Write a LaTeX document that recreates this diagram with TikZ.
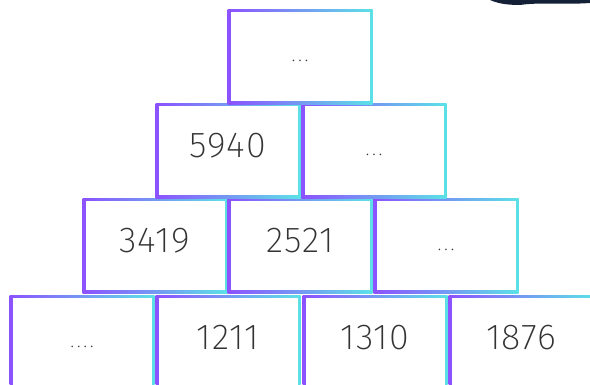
\documentclass[tikz,border=0pt]{standalone}
\usepackage{fontspec}
\setmainfont{Fira Sans ExtraLight}[LetterSpace=3]
\usepackage{xcolor}
\usetikzlibrary{positioning,calc}
\definecolor{edgeleft}{HTML}{8C52FF}
\definecolor{edgeright}{HTML}{5CE1E6}
\definecolor{inkblot}{HTML}{142036}
\tikzset{
  brick/.style ={rectangle,fill=white,minimum width=72.5pt,minimum height=47.5pt,
                 inner sep=0pt,font=\fontsize{18}{20}\selectfont,text=black!80,
                 text height=13pt,text depth=6pt,
                 path picture={
                   \shade[left color=edgeleft,right color=edgeright]
                     (path picture bounding box.south west) rectangle (path picture bounding box.north east);
                   \fill[white]
                     ([shift={(1.5pt,1.5pt)}]path picture bounding box.south west)
                     rectangle ([shift={(-1.5pt,-1.5pt)}]path picture bounding box.north east);
                 }},
  gap/.style   ={font=\fontsize{10}{12}\selectfont\addfontfeature{LetterSpace=13},
                 text height=5pt,text depth=0pt},
}
\begin{document}
\begin{tikzpicture}[x=0.5pt,y=-0.5pt]
  \useasboundingbox (0,0) rectangle (590,385);
  % bottom row
  \node[brick,gap] (d1) at (82,343)  {....};
  \node[brick]     (d2) at (228,343) {1211};
  \node[brick]     (d3) at (375,343) {1310};
  \node[brick]     (d4) at (521,343) {1876};
  % third row
  \node[brick]     (c1) at (155,246) {3419};
  \node[brick]     (c2) at (300,246) {2521};
  \node[brick,gap] (c3) at (446,246) {...};
  % second row
  \node[brick]     (b1) at (228,151) {5940};
  \node[brick,gap] (b2) at (374,151) {...};
  % top
  \node[brick,gap] (a1) at (300,57)  {...};
  % torn piece in the corner
  \fill[inkblot] (490,0) -- (590,0) -- (590,3) .. controls (560,5) and (540,2) .. (520,5)
    .. controls (505,5) and (497,3) .. (490,0) -- cycle;
\end{tikzpicture}
\end{document}
